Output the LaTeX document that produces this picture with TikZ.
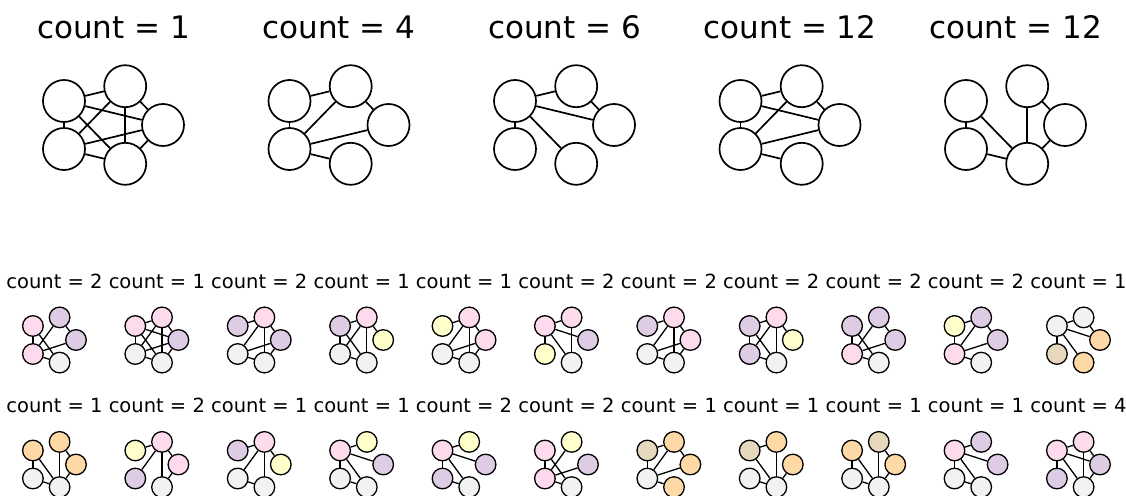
\documentclass[tikz,border=0pt]{standalone}
\usepackage{fontspec}
\setmainfont{DejaVu Sans}
\definecolor{cpink}{HTML}{FDDAEC}
\definecolor{cpurp}{HTML}{DECBE4}
\definecolor{cgray}{HTML}{F2F2F2}
\definecolor{cyell}{HTML}{FFFFCC}
\definecolor{corng}{HTML}{FED9A6}
\definecolor{ctan}{HTML}{E5D8BD}
\tikzset{
  bn/.style={circle,draw=black,fill=white,line width=1.7pt,minimum size=42pt,inner sep=0pt},
  be/.style={line width=1.7pt},
  sn/.style={circle,draw=black,line width=1.3pt,minimum size=20.6pt,inner sep=0pt},
  se/.style={line width=1.3pt},
  bt/.style={font=\fontsize{31}{36}\selectfont,inner sep=0pt,anchor=base},
  st/.style={font=\fontsize{19.5}{23}\selectfont,inner sep=0pt,anchor=base}
}
% big graph: name, cx, title, edges
\newcommand\biggraph[4]{%
  \node[bn] (#1A) at (#2-44.3,101) {};
  \node[bn] (#1B) at (#2+16.9,86.2) {};
  \node[bn] (#1C) at (#2+54.7,125) {};
  \node[bn] (#1D) at (#2-44.3,149) {};
  \node[bn] (#1E) at (#2+16.9,163.8) {};
  \node[bt] (#1T) at (#2+5.2,38.5) {#3};
  \foreach \u/\v in {#4} {\draw[be] (#1\u) -- (#1\v);}
}
% small graph: name, cx, cy, colours A..E, edges
\newcommand\smgraph[9]{%
  \node[sn,fill=#4] (#1A) at (#2-19.3,#3-14) {};
  \node[sn,fill=#5] (#1B) at (#2+7.4,#3-22.6) {};
  \node[sn,fill=#6] (#1C) at (#2+23.8,#3) {};
  \node[sn,fill=#7] (#1D) at (#2-19.3,#3+14) {};
  \node[sn,fill=#8] (#1E) at (#2+7.4,#3+22.6) {};
  \foreach \u/\v in {#9} {\draw[se] (#1\u) -- (#1\v);}
}
\begin{document}
\begin{tikzpicture}[x=1pt,y=-1pt]
\useasboundingbox (0,0) rectangle (1126,495);
\biggraph{g1}{108.3}{count = 1}{A/B,A/C,A/D,A/E,B/C,B/D,B/E,C/D,C/E,D/E}
\biggraph{g2}{333.8}{count = 4}{A/B,A/D,B/D,B/C,C/D,D/E}
\biggraph{g3}{559.3}{count = 6}{A/B,A/D,A/C,A/E,B/C}
\biggraph{g4}{784.8}{count = 12}{A/B,A/D,A/C,B/D,C/D,D/E,B/C}
\biggraph{g5}{1010.3}{count = 12}{A/D,A/E,B/E,C/E,D/E,B/C}
% row 2
\smgraph{r1}{52.2}{340}{cpink}{cpurp}{cpurp}{cpink}{cgray}{A/D,A/E,B/D,C/D,D/E,B/C}
\smgraph{r2}{154.6}{340}{cpink}{cpink}{cpurp}{cgray}{cgray}{A/B,A/C,A/D,A/E,B/C,B/D,B/E,C/D,C/E,D/E}
\smgraph{r3}{257.0}{340}{cpurp}{cpink}{cpurp}{cgray}{cgray}{A/B,B/C,B/D,B/E,C/D,C/E,D/E}
\smgraph{r4}{359.4}{340}{cpurp}{cpink}{cyell}{cgray}{cgray}{A/B,A/D,A/E,B/D,B/E,D/E,B/C}
\smgraph{r5}{461.8}{340}{cyell}{cpink}{cpink}{cgray}{cgray}{A/B,B/C,B/D,B/E,C/D,C/E,D/E}
\smgraph{r6}{564.2}{340}{cpink}{cpink}{cpurp}{cyell}{cgray}{A/B,A/C,A/D,A/E,B/E}
\smgraph{r7}{666.6}{340}{cpurp}{cpink}{cpink}{cgray}{cgray}{A/B,B/C,B/D,B/E,C/D,C/E,D/E}
\smgraph{r8}{769.0}{340}{cpurp}{cpink}{cyell}{cpurp}{cgray}{A/B,A/D,A/E,B/D,B/E,D/E,B/C}
\smgraph{r9}{871.4}{340}{cpurp}{cpurp}{cpurp}{cpink}{cgray}{A/D,A/E,B/D,C/D,D/E,B/C}
\smgraph{r10}{973.8}{340}{cyell}{cpurp}{cpurp}{cpink}{cgray}{A/B,A/D,B/C,B/D,C/D,D/E}
\smgraph{r11}{1076.2}{340}{cgray}{cgray}{corng}{ctan}{corng}{A/B,A/D,A/C,A/E,B/C}
% row 3
\smgraph{s1}{52.2}{464.5}{corng}{corng}{corng}{cgray}{cgray}{A/D,A/E,B/E,C/E,D/E,B/C}
\smgraph{s2}{154.6}{464.5}{cyell}{cpink}{cpink}{cpurp}{cgray}{A/B,B/C,B/D,B/E,C/E}
\smgraph{s3}{257.0}{464.5}{cpurp}{cpink}{cyell}{cgray}{cgray}{A/B,B/C,B/D,B/E,D/E}
\smgraph{s4}{359.4}{464.5}{cpink}{cyell}{cpurp}{cgray}{cgray}{A/B,A/C,A/D,A/E,D/E}
\smgraph{s5}{461.8}{464.5}{cpink}{cyell}{cpurp}{cpurp}{cgray}{A/B,A/C,A/D,A/E,D/E}
\smgraph{s6}{564.2}{464.5}{cpink}{cyell}{cpurp}{cpink}{cgray}{A/D,A/E,B/D,C/D,D/E}
\smgraph{s7}{666.6}{464.5}{ctan}{corng}{corng}{cgray}{corng}{A/B,A/D,B/D,B/C,C/D,D/E}
\smgraph{s8}{769.0}{464.5}{ctan}{corng}{corng}{cgray}{cgray}{A/B,A/E,B/E,D/E,C/E}
\smgraph{s9}{871.4}{464.5}{corng}{ctan}{corng}{cgray}{cgray}{A/D,A/E,B/E,C/E,D/E,B/C}
\smgraph{s10}{973.8}{464.5}{cpink}{cpurp}{cpurp}{cgray}{cgray}{A/B,A/C,A/D,A/E,D/E}
\smgraph{s11}{1076.2}{464.5}{cpink}{cpink}{cpurp}{cpurp}{cgray}{A/B,A/C,A/D,A/E,B/C,B/E,C/E}
% small titles
\foreach \i/\c in {0/2,1/1,2/2,3/1,4/1,5/2,6/2,7/2,8/2,9/2,10/1}{
  \node[st] (ta\i) at (54.45+102.4*\i,288) {count = \c};}
\foreach \i/\c in {0/1,1/2,2/1,3/1,4/2,5/2,6/1,7/1,8/1,9/1,10/4}{
  \node[st] (tb\i) at (54.45+102.4*\i,412) {count = \c};}
\end{tikzpicture}
\end{document}
